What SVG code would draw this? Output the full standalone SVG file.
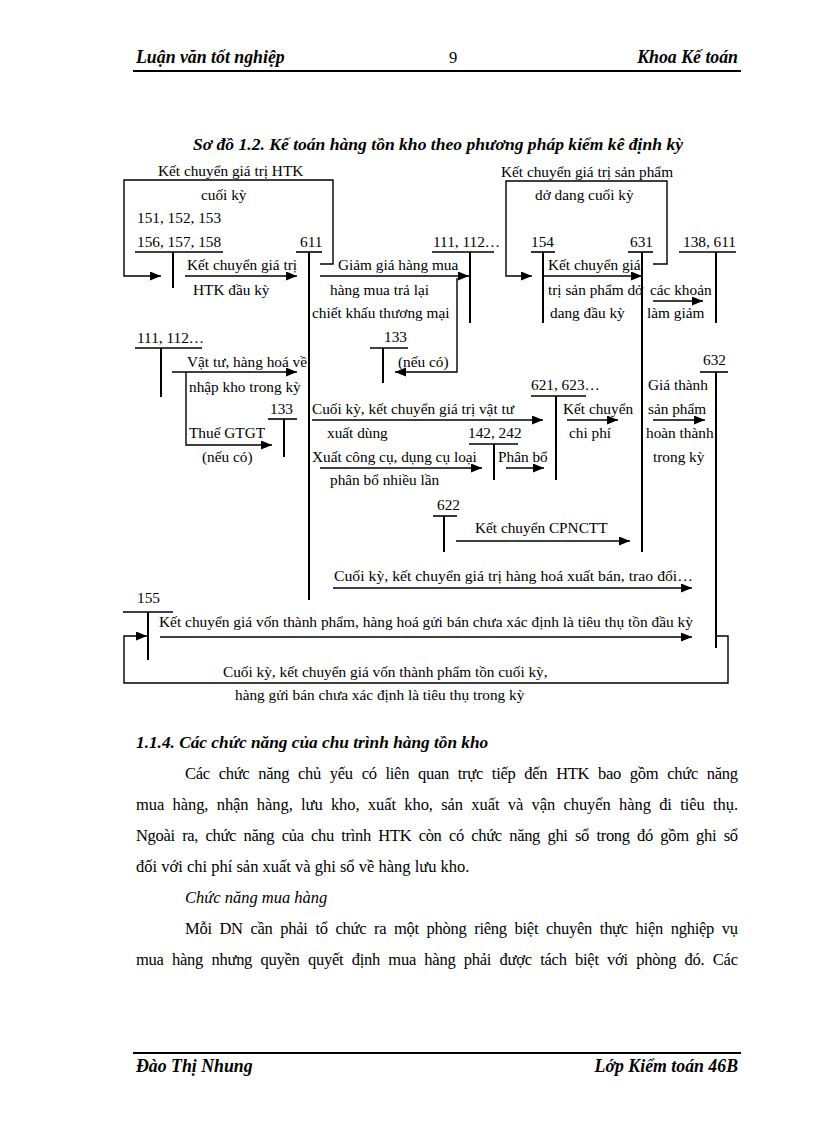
<svg xmlns="http://www.w3.org/2000/svg" width="816" height="1123" viewBox="0 0 816 1123">
<style>
text{font-family:"Liberation Serif","Times New Roman",serif;fill:#000}
.d{font-size:15.3px}
.b{font-size:16.5px}
.h{font-size:17.8px;font-weight:bold;font-style:italic}
.bi{font-weight:bold;font-style:italic}
.it{font-style:italic}
.bar{stroke:#000;stroke-width:1.6;fill:none}
.stem{stroke:#000;stroke-width:2;fill:none}
.ar{stroke:#000;stroke-width:1.4;fill:none;marker-end:url(#ah)}
.rule{stroke:#000;stroke-width:2.2}
</style>
<defs>
<marker id="ah" markerUnits="userSpaceOnUse" markerWidth="12" markerHeight="10" refX="11" refY="4.5" orient="auto">
<path d="M0,0 L11,4.5 L0,9 z" fill="#000"/>
</marker>
</defs>
<rect width="816" height="1123" fill="#fff"/>

<g id="header">
<text x="136" y="63" class="h">Luận văn tốt nghiệp</text>
<text x="449" y="63" class="b">9</text>
<text x="738" y="63" class="h" text-anchor="end">Khoa Kế toán</text>
<line x1="133" y1="71" x2="741" y2="71" class="rule"/>
</g>

<text x="193" y="150" class="bi" font-size="17.5" textLength="490" lengthAdjust="spacingAndGlyphs">Sơ đồ 1.2. Kế toán hàng tồn kho theo phương pháp kiểm kê định kỳ</text>

<g id="acc-156">
<text x="137" y="223" class="d">151, 152, 153</text>
<text x="137" y="247" class="d">156, 157, 158</text>
<line x1="135" y1="252" x2="223" y2="252" class="bar"/>
<line x1="173" y1="252" x2="173" y2="288" class="stem"/>
</g>
<g id="acc-611">
<text x="300" y="247" class="d">611</text>
<line x1="296" y1="252" x2="322" y2="252" class="bar"/>
<line x1="309" y1="252" x2="309" y2="600" class="stem"/>
</g>
<g id="acc-111-top">
<text x="433" y="247" class="d">111, 112…</text>
<line x1="432" y1="252" x2="494" y2="252" class="bar"/>
<line x1="470" y1="252" x2="470" y2="323" class="stem"/>
</g>
<g id="acc-154">
<text x="531" y="247" class="d">154</text>
<line x1="531" y1="252" x2="555" y2="252" class="bar"/>
<line x1="543" y1="252" x2="543" y2="323" class="stem"/>
</g>
<g id="acc-631">
<text x="630" y="247" class="d">631</text>
<line x1="628" y1="252" x2="653" y2="252" class="bar"/>
<line x1="642" y1="252" x2="642" y2="552" class="stem"/>
</g>
<g id="acc-138">
<text x="683" y="247" class="d">138, 611</text>
<line x1="679" y1="252" x2="736" y2="252" class="bar"/>
<line x1="716" y1="252" x2="716" y2="323" class="stem"/>
</g>
<g id="acc-111-mid">
<text x="137" y="343" class="d">111, 112…</text>
<line x1="135" y1="348" x2="202" y2="348" class="bar"/>
<line x1="161" y1="348" x2="161" y2="397" class="stem"/>
</g>
<g id="acc-133-left">
<text x="270" y="414" class="d">133</text>
<line x1="268" y1="419" x2="297" y2="419" class="bar"/>
<line x1="284" y1="419" x2="284" y2="457" class="stem"/>
</g>
<g id="acc-133-mid">
<text x="384" y="342" class="d">133</text>
<line x1="370" y1="348" x2="408" y2="348" class="bar"/>
<line x1="383" y1="348" x2="383" y2="383" class="stem"/>
</g>
<g id="acc-632">
<text x="703" y="365" class="d">632</text>
<line x1="700" y1="372" x2="728" y2="372" class="bar"/>
<line x1="716" y1="372" x2="716" y2="648" class="stem"/>
</g>
<g id="acc-621">
<text x="531" y="390" class="d">621, 623…</text>
<line x1="531" y1="396" x2="586" y2="396" class="bar"/>
<line x1="556" y1="396" x2="556" y2="480" class="stem"/>
</g>
<g id="acc-142">
<text x="468" y="438" class="d">142, 242</text>
<line x1="469" y1="444" x2="518" y2="444" class="bar"/>
<line x1="494" y1="444" x2="494" y2="480" class="stem"/>
</g>
<g id="acc-622">
<text x="437" y="510" class="d">622</text>
<line x1="433" y1="516" x2="457" y2="516" class="bar"/>
<line x1="444" y1="516" x2="444" y2="552" class="stem"/>
</g>
<g id="acc-155">
<text x="137" y="603" class="d">155</text>
<line x1="123" y1="612" x2="173" y2="612" class="bar"/>
<line x1="148" y1="612" x2="148" y2="660" class="stem"/>
</g>

<g id="connectors">
<polyline points="320,264 333,264 333,180 124,180 124,276 161,276" class="ar"/>
<polyline points="653,264 667,264 667,181 506,181 506,276 532,276" class="ar"/>
<line x1="185" y1="276" x2="297" y2="276" class="ar"/>
<line x1="320" y1="276" x2="469" y2="276" class="ar"/>
<line x1="543" y1="276" x2="642" y2="276" class="ar"/>
<line x1="653" y1="301" x2="703" y2="301" class="ar"/>
<polyline points="457,278 457,372 395,372" class="ar"/>
<line x1="172" y1="372" x2="297" y2="372" class="ar"/>
<polyline points="186,372 186,445 272,445" class="ar"/>
<line x1="312" y1="420" x2="543" y2="420" class="ar"/>
<line x1="320" y1="468" x2="482" y2="468" class="ar"/>
<line x1="506" y1="468" x2="544" y2="468" class="ar"/>
<line x1="567" y1="420" x2="618" y2="420" class="ar"/>
<line x1="653" y1="420" x2="705" y2="420" class="ar"/>
<line x1="456" y1="541" x2="630" y2="541" class="ar"/>
<line x1="333" y1="588" x2="692" y2="588" class="ar"/>
<line x1="160" y1="637" x2="692" y2="637" class="ar"/>
<polyline points="716,636 728,636 728,683 124,683 124,636 147,636" class="ar"/>
</g>

<g id="labels">
<text x="158" y="176" class="d">Kết chuyển giá trị HTK</text>
<text x="201" y="200" class="d">cuối kỳ</text>
<text x="187" y="270" class="d">Kết chuyển giá trị</text>
<text x="193" y="295" class="d">HTK đầu kỳ</text>
<text x="338" y="270" class="d">Giảm giá hàng mua</text>
<text x="330" y="295" class="d">hàng mua trả lại</text>
<text x="312" y="318" class="d">chiết khấu thương mại</text>
<text x="501" y="177" class="d">Kết chuyển giá trị sản phẩm</text>
<text x="535" y="200" class="d">dở dang cuối kỳ</text>
<text x="548" y="270" class="d">Kết chuyển giá</text>
<text x="548" y="295" class="d">trị sản phẩm dở</text>
<text x="550" y="318" class="d">dang đầu kỳ</text>
<text x="650" y="295" class="d">các khoản</text>
<text x="647" y="318" class="d">làm giảm</text>
<text x="398" y="367" class="d">(nếu có)</text>
<text x="187" y="367" class="d">Vật tư, hàng hoá về</text>
<text x="189" y="392" class="d">nhập kho trong kỳ</text>
<text x="189" y="438" class="d">Thuế GTGT</text>
<text x="202" y="462" class="d">(nếu có)</text>
<text x="312" y="414" class="d">Cuối kỳ, kết chuyển giá trị vật tư</text>
<text x="327" y="438" class="d">xuất dùng</text>
<text x="312" y="462" class="d">Xuất công cụ, dụng cụ loại</text>
<text x="330" y="485" class="d">phân bổ nhiều lần</text>
<text x="498" y="462" class="d">Phân bổ</text>
<text x="563" y="414" class="d">Kết chuyển</text>
<text x="569" y="438" class="d">chi phí</text>
<text x="648" y="390" class="d">Giá thành</text>
<text x="648" y="414" class="d">sản phẩm</text>
<text x="646" y="438" class="d">hoàn thành</text>
<text x="653" y="462" class="d">trong kỳ</text>
<text x="475" y="533" class="d">Kết chuyển CPNCTT</text>
<text x="334" y="581" class="d" textLength="359" lengthAdjust="spacingAndGlyphs">Cuối kỳ, kết chuyển giá trị hàng hoá xuất bán, trao đổi…</text>
<text x="159" y="627" class="d" textLength="534" lengthAdjust="spacingAndGlyphs">Kết chuyển giá vốn thành phẩm, hàng hoá gửi bán chưa xác định là tiêu thụ tồn đầu kỳ</text>
<text x="223" y="677" class="d">Cuối kỳ, kết chuyển giá vốn thành phẩm tồn cuối kỳ,</text>
<text x="235" y="700" class="d">hàng gửi bán chưa xác định là tiêu thụ trong kỳ</text>
</g>

<g id="body">
<text x="136" y="748" class="bi" font-size="17.3">1.1.4. Các chức năng của chu trình hàng tồn kho</text>
<text x="185" y="779" class="b" word-spacing="5" textLength="553" lengthAdjust="spacing">Các chức năng chủ yếu có liên quan trực tiếp đến HTK bao gồm chức năng</text>
<text x="136" y="810" class="b" word-spacing="4.2" textLength="602" lengthAdjust="spacing">mua hàng, nhận hàng, lưu kho, xuất kho, sản xuất và vận chuyển hàng đi tiêu thụ.</text>
<text x="136" y="841" class="b" word-spacing="3.6" textLength="602" lengthAdjust="spacing">Ngoài ra, chức năng của chu trình HTK còn có chức năng ghi sổ trong đó gồm ghi sổ</text>
<text x="136" y="872" class="b">đối với chi phí sản xuất và ghi sổ về hàng lưu kho.</text>
<text x="185" y="903" class="b it">Chức năng mua hàng</text>
<text x="185" y="934" class="b" word-spacing="3.8" textLength="553" lengthAdjust="spacing">Mỗi DN cần phải tổ chức ra một phòng riêng biệt chuyên thực hiện nghiệp vụ</text>
<text x="136" y="965" class="b" word-spacing="4.5" textLength="602" lengthAdjust="spacing">mua hàng nhưng quyền quyết định mua hàng phải được tách biệt với phòng đó. Các</text>
</g>

<g id="footer">
<line x1="133" y1="1053" x2="741" y2="1053" class="rule"/>
<text x="136" y="1072" class="h">Đào Thị Nhung</text>
<text x="738" y="1072" class="h" text-anchor="end">Lớp Kiểm toán 46B</text>
</g>
</svg>
